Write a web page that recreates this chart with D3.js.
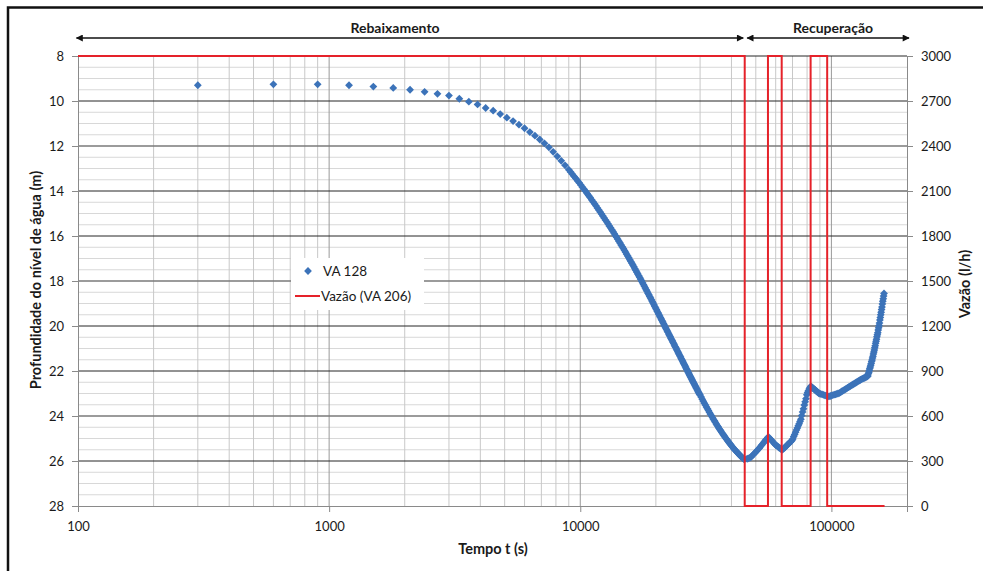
<!DOCTYPE html>
<html><head><meta charset="utf-8">
<script src="https://cdn.jsdelivr.net/npm/d3@7"></script>
<style>
body{margin:0;background:#fff}
svg{display:block}
text{font-family:Lato,'Open Sans',sans-serif;fill:#1a1a1a}
</style>
</head><body>
<svg id="c" width="983" height="571"></svg>
<script>
// ---------- DATA ----------
const xTicks = [100, 1000, 10000, 100000];
const leftTicks = [8, 10, 12, 14, 16, 18, 20, 22, 24, 26, 28];
const rightTicks = [0, 300, 600, 900, 1200, 1500, 1800, 2100, 2400, 2700, 3000];
const seriesNames = ["VA 128", "Vazão (VA 206)"];
// Vazão (VA 206) step line, l/h
const flowTimes  = [100, 45170, 45170, 55900, 55900, 63400, 63400, 82650, 82650, 96200, 96200, 162800];
const flowValues = [3000, 3000, 0, 0, 3000, 3000, 0, 0, 3000, 3000, 0, 0];
// VA 128 depth (m) vs time (s)
const va128 = [
[300,9.30],[600,9.26],[900,9.26],[1200,9.30],[1500,9.36],[1800,9.42],[2100,9.50],[2400,9.59],[2700,9.68],[3000,9.76],
[3300,9.90],[3600,10.03],[3900,10.15],[4200,10.31],[4500,10.43],[4800,10.58],[5100,10.74],[5400,10.89],[5700,11.05],[6000,11.21],
[6300,11.38],[6600,11.54],[6900,11.71],[7200,11.88],[7500,12.06],[7800,12.26],[8100,12.46],[8400,12.66],[8700,12.86],[9000,13.05],
[9150,13.15],[9300,13.25],[9450,13.35],[9600,13.44],[9750,13.54],[9900,13.63],[10050,13.73],[10200,13.83],[10350,13.92],[10500,14.01],
[10650,14.11],[10800,14.20],[10950,14.29],[11100,14.39],[11250,14.48],[11400,14.57],[11550,14.66],[11700,14.75],[11850,14.84],[12000,14.93],
[12150,15.02],[12300,15.11],[12450,15.20],[12600,15.29],[12750,15.37],[12900,15.46],[13050,15.55],[13200,15.63],[13350,15.72],[13500,15.80],
[13650,15.89],[13800,15.98],[13950,16.06],[14100,16.14],[14250,16.23],[14400,16.31],[14550,16.40],[14700,16.48],[14850,16.56],[15000,16.64],
[15150,16.72],[15300,16.81],[15450,16.89],[15600,16.97],[15750,17.05],[15900,17.13],[16050,17.21],[16200,17.29],[16350,17.37],[16500,17.45],
[16650,17.53],[16800,17.61],[16950,17.69],[17100,17.77],[17250,17.84],[17400,17.92],[17550,18.00],[17700,18.08],[17850,18.16],[18000,18.23],
[18150,18.31],[18300,18.39],[18450,18.46],[18600,18.54],[18750,18.61],[18900,18.69],[19050,18.76],[19200,18.83],[19350,18.91],[19500,18.98],
[19650,19.05],[19800,19.13],[19950,19.20],[20100,19.27],[20250,19.34],[20400,19.41],[20550,19.48],[20700,19.55],[20850,19.62],[21000,19.69],
[21150,19.76],[21300,19.82],[21450,19.89],[21600,19.96],[21750,20.03],[21900,20.09],[22050,20.15],[22200,20.22],[22350,20.28],[22500,20.35],
[22650,20.41],[22800,20.47],[22950,20.54],[23100,20.60],[23250,20.66],[23400,20.72],[23550,20.78],[23700,20.84],[23850,20.91],[24000,20.96],
[24150,21.02],[24300,21.08],[24450,21.14],[24600,21.20],[24750,21.26],[24900,21.32],[25050,21.37],[25200,21.43],[25350,21.49],[25500,21.54],
[25650,21.60],[25800,21.66],[25950,21.71],[26100,21.77],[26250,21.82],[26400,21.88],[26550,21.93],[26700,21.98],[26850,22.04],[27000,22.09],
[27150,22.14],[27300,22.20],[27450,22.25],[27600,22.30],[27750,22.35],[27900,22.40],[28050,22.45],[28200,22.50],[28350,22.55],[28500,22.60],
[28650,22.65],[28800,22.70],[28950,22.75],[29100,22.79],[29250,22.84],[29400,22.89],[29550,22.94],[29700,22.98],[29850,23.03],[30000,23.07],
[30300,23.16],[30600,23.25],[30900,23.34],[31200,23.43],[31500,23.51],[31800,23.60],[32100,23.68],[32400,23.76],[32700,23.84],[33000,23.92],
[33300,23.99],[33600,24.07],[33900,24.14],[34200,24.21],[34500,24.28],[34800,24.35],[35100,24.42],[35400,24.48],[35700,24.55],[36000,24.61],
[36300,24.67],[36600,24.73],[36900,24.79],[37200,24.84],[37500,24.90],[37800,24.95],[38100,25.01],[38400,25.06],[38700,25.11],[39000,25.16],
[39300,25.21],[39600,25.26],[39900,25.30],[40200,25.35],[40500,25.39],[40800,25.44],[41100,25.48],[41400,25.52],[41700,25.56],[42000,25.60],
[42300,25.63],[42600,25.67],[42900,25.71],[43200,25.74],[43500,25.78],[43800,25.81],[44100,25.84],[44400,25.87],[44700,25.90],[45000,25.93],
[46200,25.90],[46800,25.88],[47400,25.85],[48000,25.81],[48600,25.74],[49200,25.68],[49800,25.62],[50400,25.56],[51000,25.49],[51600,25.43],
[52200,25.36],[52800,25.29],[53400,25.22],[54000,25.15],[54600,25.08],[55200,25.02],[55800,24.95],[56400,24.95],[57000,25.01],[57600,25.07],
[58200,25.12],[58800,25.18],[59400,25.24],[60000,25.29],[60600,25.32],[61200,25.36],[61800,25.40],[62400,25.43],[63000,25.47],[63600,25.50],
[64200,25.47],[64800,25.43],[65400,25.39],[66000,25.34],[66600,25.30],[67200,25.25],[67800,25.22],[68400,25.17],[69000,25.13],[69600,25.09],
[70200,25.02],[70800,24.91],[71400,24.82],[72000,24.72],[72600,24.62],[73200,24.53],[73800,24.43],[74400,24.34],[75000,24.24],[75600,24.14],
[76200,23.98],[76800,23.82],[77400,23.68],[78000,23.51],[78600,23.37],[79200,23.23],[79800,23.06],[80400,22.95],[81000,22.88],[81600,22.80],
[82200,22.73],[82800,22.68],[83400,22.71],[84000,22.74],[84600,22.77],[85200,22.79],[85800,22.83],[86400,22.85],[87000,22.89],[87600,22.91],
[88200,22.94],[88800,22.97],[89400,23.00],[90600,23.02],[91800,23.04],[93000,23.06],
[94200,23.08],[95400,23.10],[96600,23.13],[97800,23.13],[99000,23.11],[100200,23.09],[101400,23.07],[102600,23.05],[103800,23.04],[105000,23.02],
[106200,23.00],[107400,22.98],[108600,22.95],[109800,22.91],[111000,22.88],[112200,22.85],[113400,22.82],[114600,22.78],[115800,22.75],[117000,22.72],
[118200,22.69],[119400,22.66],[120600,22.63],[121800,22.60],[123000,22.57],[124200,22.54],[125400,22.51],[126600,22.48],[127800,22.45],[129000,22.43],
[130200,22.40],[131400,22.37],[132600,22.35],[133800,22.33],[135000,22.31],[136200,22.29],[137400,22.27],[138600,22.25],[139800,22.22],[140400,22.12],
[141000,22.05],[141600,21.97],[142200,21.89],[142800,21.82],[143400,21.74],[144000,21.67],[144600,21.58],[145200,21.51],[145800,21.42],[146400,21.34],
[147000,21.24],[147600,21.16],[148200,21.07],[148800,20.97],[149400,20.88],[150000,20.77],[150600,20.68],[151200,20.59],[151800,20.48],[152400,20.39],
[153000,20.30],[153600,20.18],[154200,20.08],[154800,19.98],[155400,19.87],[156000,19.73],[156600,19.62],[157200,19.50],[157800,19.39],[158400,19.27],
[159000,19.16],[159600,19.02],[160200,18.90],[160800,18.79],[161400,18.67],[162000,18.55]
];
const phases = [
  {label:"Rebaixamento", from:100, to:45170},
  {label:"Recuperação", from:45170, to:200000}
];

// ---------- CHART ----------
const svg = d3.select("#c");
const P = {l:78, r:907, t:56, b:506};
const x = d3.scaleLog().domain([100, 200000]).range([P.l, P.r]);
const yL = d3.scaleLinear().domain([8, 28]).range([P.t, P.b]);
const yR = d3.scaleLinear().domain([0, 3000]).range([P.b, P.t]);
const blue = "#3c73b9", red = "#e5222a";

svg.append("rect").attr("width",983).attr("height",571).attr("fill","#fff");
// outer frame (top + left visible)
svg.append("path").attr("d","M8,571 L8,7.5 L983,7.5").attr("fill","none").attr("stroke","#111").attr("stroke-width",2.5);

const g = svg.append("g");
const minorH = d3.range(8, 28.001, 0.5).filter(v => Math.abs(v % 2) > 1e-6);
g.selectAll(".mh").data(minorH).join("line")
  .attr("x1",P.l).attr("x2",P.r).attr("y1",d=>yL(d)).attr("y2",d=>yL(d))
  .attr("stroke","#d8d8d8").attr("stroke-width",1);
const minorV = [];
[100,1000,10000,100000].forEach(dec => { for (let k=2;k<=9;k++){ const v=dec*k; if (v<200000) minorV.push(v);} });
g.selectAll(".mv").data(minorV).join("line")
  .attr("x1",d=>x(d)).attr("x2",d=>x(d)).attr("y1",P.t).attr("y2",P.b)
  .attr("stroke","#c8c8c8").attr("stroke-width",1);
g.selectAll(".Mv").data(xTicks.slice(1)).join("line")
  .attr("x1",d=>x(d)).attr("x2",d=>x(d)).attr("y1",P.t).attr("y2",P.b)
  .attr("stroke","#9a9a9a").attr("stroke-width",1);
g.selectAll(".Mh").data(leftTicks.filter(v=>v>8 && v<28)).join("line")
  .attr("x1",P.l).attr("x2",P.r).attr("y1",d=>yL(d)).attr("y2",d=>yL(d))
  .attr("stroke",d=> (d%6===0) ? "#7a7a7a" : "#262626").attr("stroke-width",d=> (d%6===0)?1.4:1);
g.append("line").attr("x1",P.l).attr("x2",P.r).attr("y1",P.t).attr("y2",P.t).attr("stroke","#262626");

// axes
const axisCol = "#8a8a8a";
const fmt = d3.format("d");
const axL = d3.axisLeft(yL).tickValues(leftTicks).tickSize(6).tickPadding(8).tickFormat(fmt);
const axR = d3.axisRight(yR).tickValues(rightTicks).tickSize(6).tickPadding(8).tickFormat(fmt);
const axB = d3.axisBottom(x).tickValues(xTicks).tickSize(6).tickPadding(8).tickFormat(fmt);
function style(sel){
  sel.select(".domain").attr("stroke",axisCol);
  sel.selectAll(".tick line").attr("stroke",axisCol);
  sel.selectAll(".tick text").attr("font-size",13).attr("font-family","Lato").attr("fill","#1a1a1a");
}
svg.append("g").attr("transform",`translate(${P.l},0)`).call(axL).call(style);
svg.append("g").attr("transform",`translate(${P.r},0)`).call(axR).call(style);
svg.append("g").attr("transform",`translate(0,${P.b})`).call(axB).call(style)
  .selectAll(".tick text").attr("dy","0.88em");

// VA 128 markers
const diamond = "M0,-3.9L3.9,0L0,3.9L-3.9,0Z";
svg.append("g").selectAll("path").data(va128).join("path")
  .attr("d",diamond).attr("fill",blue)
  .attr("transform",d=>`translate(${x(d[0])},${yL(d[1])})`);

// Vazão step line
const flowPts = flowTimes.map((t,i)=>[t, flowValues[i]]);
svg.append("path").datum(flowPts)
  .attr("d", d3.line().x(d=>x(d[0])).y(d=>yR(d[1])))
  .attr("fill","none").attr("stroke",red).attr("stroke-width",2);

// phase arrows
const defs = svg.append("defs");
defs.append("marker").attr("id","ah").attr("viewBox","0 0 10 10").attr("refX",9).attr("refY",5)
  .attr("markerWidth",9).attr("markerHeight",7).attr("markerUnits","userSpaceOnUse").attr("orient","auto-start-reverse")
  .append("path").attr("d","M0,0L10,5L0,10Z").attr("fill","#111");
phases.forEach((p,i)=>{
  const x1 = x(p.from) - (i===0?1.5:-2.5), x2 = i===0 ? x(p.to)-1.5 : 909;
  svg.append("line").attr("x1",x1).attr("x2",x2).attr("y1",38).attr("y2",38)
    .attr("stroke","#111").attr("stroke-width",1.4)
    .attr("marker-start","url(#ah)").attr("marker-end","url(#ah)");
  svg.append("text").attr("x", i===0 ? 395 : 833).attr("y",33)
    .attr("text-anchor","middle").attr("font-size",14).attr("font-weight","bold").text(p.label);
});

// axis titles
svg.append("text").attr("x",493).attr("y",554).attr("text-anchor","middle")
  .attr("font-size",14.5).attr("font-weight","bold").text("Tempo t (s)");
svg.append("text").attr("transform","translate(41,280) rotate(-90)").attr("text-anchor","middle")
  .attr("font-size",14.5).attr("font-weight","bold").text("Profundidade do nível de água (m)");
svg.append("text").attr("transform","translate(970,284) rotate(-90)").attr("text-anchor","middle")
  .attr("font-size",14.5).attr("font-weight","bold").text("Vazão (l/h)");

// legend
const lg = svg.append("g");
lg.append("rect").attr("x",291).attr("y",258).attr("width",133).attr("height",52).attr("fill","#fff");
lg.append("path").attr("d",diamond).attr("fill",blue).attr("transform","translate(308,271)");
lg.append("text").attr("x",323).attr("y",276).attr("font-size",13.5).text(seriesNames[0]);
lg.append("line").attr("x1",295).attr("x2",320).attr("y1",296).attr("y2",296).attr("stroke",red).attr("stroke-width",2);
lg.append("text").attr("x",321).attr("y",301).attr("font-size",13.5).text(seriesNames[1]);
</script>
</body></html>
